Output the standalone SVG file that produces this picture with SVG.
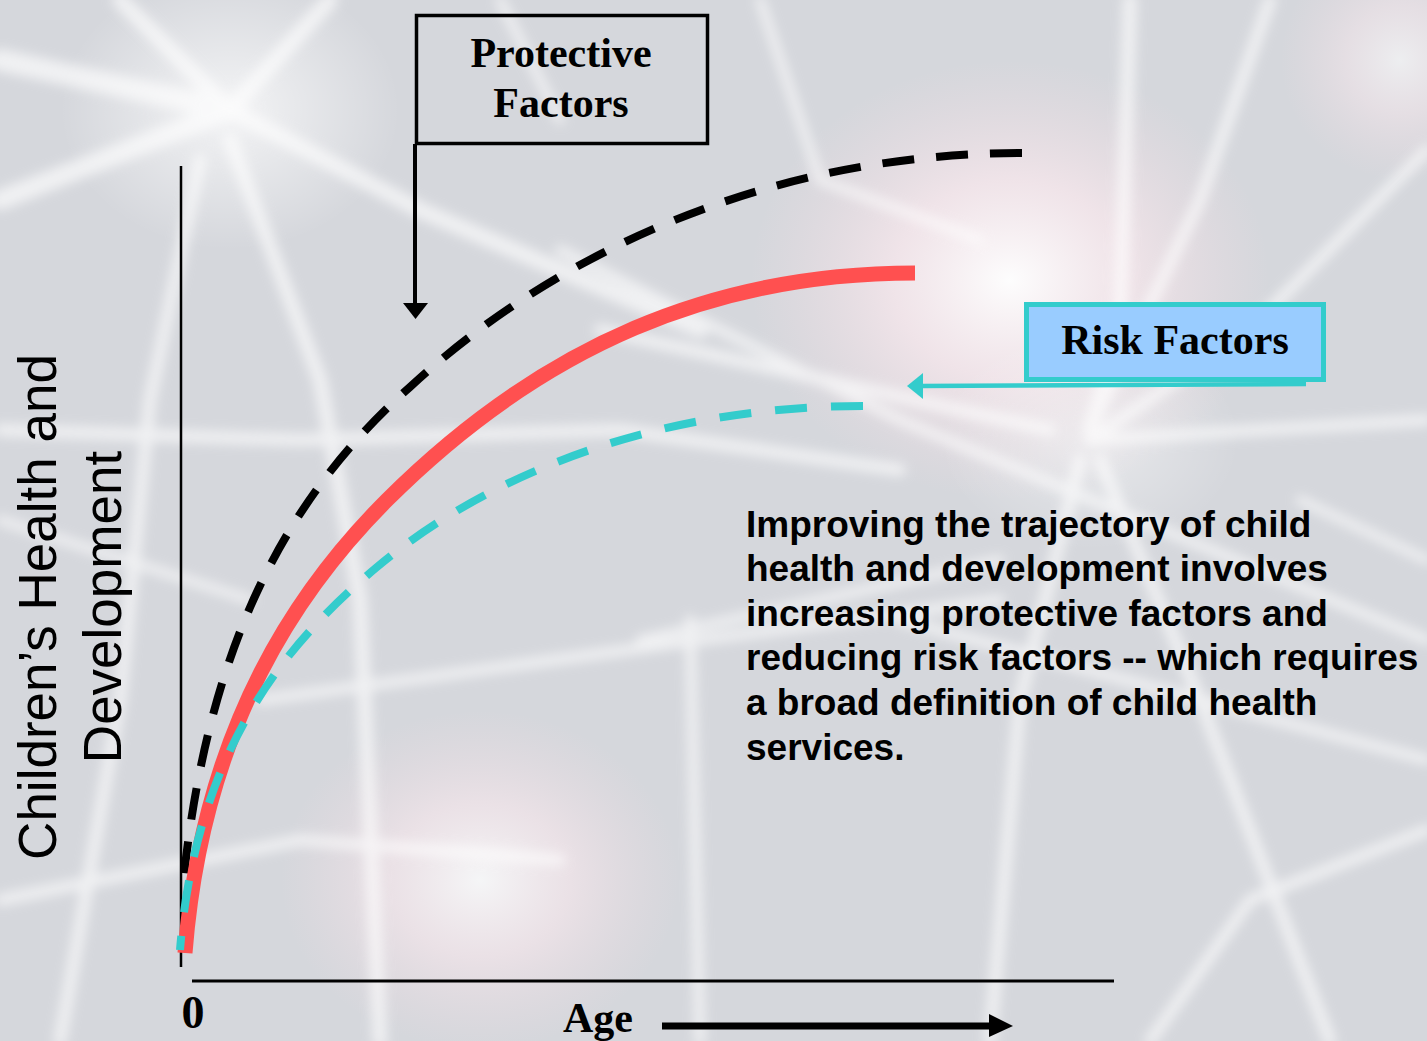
<svg xmlns="http://www.w3.org/2000/svg" width="1427" height="1041" viewBox="0 0 1427 1041">
  <defs>
    <style>
      .serif { font-family: "Liberation Serif", "Times New Roman", serif; font-weight: bold; fill: #000; }
      .sans { font-family: "Liberation Sans", Arial, sans-serif; fill: #000; }
      .streak { stroke: #ffffff; fill: none; stroke-linecap: round; }
      .blackdash { fill: none; stroke: #000; stroke-width: 8; stroke-dasharray: 32 22; }
      .tealdash { fill: none; stroke: #33CCCC; stroke-width: 8; stroke-dasharray: 32 24; }
    </style>
    <filter id="blur" x="-20%" y="-20%" width="140%" height="140%">
      <feGaussianBlur stdDeviation="6"/>
    </filter>
    <radialGradient id="glowPink" cx="0.5" cy="0.5" r="0.5">
      <stop offset="0" stop-color="#ffffff" stop-opacity="0.95"/>
      <stop offset="0.45" stop-color="#fbe9ee" stop-opacity="0.7"/>
      <stop offset="1" stop-color="#f3dde3" stop-opacity="0"/>
    </radialGradient>
    <radialGradient id="glowWhite" cx="0.5" cy="0.5" r="0.5">
      <stop offset="0" stop-color="#ffffff" stop-opacity="0.9"/>
      <stop offset="1" stop-color="#ffffff" stop-opacity="0"/>
    </radialGradient>
  </defs>

  <!-- background (neuron photograph impression) -->
  <g id="background">
    <rect x="0" y="0" width="1427" height="1041" fill="#d5d7dc"/>
    <ellipse cx="1010" cy="280" rx="260" ry="220" fill="url(#glowPink)"/>
    <ellipse cx="480" cy="880" rx="200" ry="170" fill="url(#glowPink)" opacity="0.8"/>
    <ellipse cx="230" cy="110" rx="170" ry="140" fill="url(#glowWhite)" opacity="0.8"/>
    <ellipse cx="1090" cy="440" rx="150" ry="110" fill="url(#glowWhite)" opacity="0.5"/>
    <ellipse cx="1400" cy="60" rx="120" ry="120" fill="url(#glowPink)" opacity="0.6"/>
    <g filter="url(#blur)" opacity="0.65">
      <path class="streak" stroke-width="22" d="M230 110 L0 60"/>
      <path class="streak" stroke-width="20" d="M230 110 L0 200"/>
      <path class="streak" stroke-width="16" d="M230 110 L120 0"/>
      <path class="streak" stroke-width="16" d="M230 110 L330 0"/>
      <path class="streak" stroke-width="16" d="M230 110 L420 210 L700 330"/>
      <path class="streak" stroke-width="14" d="M230 140 L320 380 L360 600 L380 1041"/>
      <path class="streak" stroke-width="12" d="M200 160 L150 400 L120 700 L60 1041"/>
      <path class="streak" stroke-width="12" d="M0 430 L300 440 L620 430 L900 470"/>
      <path class="streak" stroke-width="9" d="M0 520 L250 600"/>
      <path class="streak" stroke-width="10" d="M560 250 L900 420 L1427 640"/>
      <path class="streak" stroke-width="12" d="M600 330 L1050 430"/>
      <path class="streak" stroke-width="14" d="M1130 0 L1120 320 L1090 430"/>
      <path class="streak" stroke-width="12" d="M1270 0 L1200 200 L1090 430"/>
      <path class="streak" stroke-width="11" d="M1427 150 L1250 330 L1090 440"/>
      <path class="streak" stroke-width="11" d="M1090 440 L1427 420"/>
      <path class="streak" stroke-width="12" d="M1080 460 L1020 700 L990 1041"/>
      <path class="streak" stroke-width="12" d="M1100 460 L1200 700 L1330 1041"/>
      <path class="streak" stroke-width="11" d="M1427 830 L1250 900 L1150 1041"/>
      <path class="streak" stroke-width="10" d="M900 620 L1427 760"/>
      <path class="streak" stroke-width="9" d="M640 640 L1000 560"/>
      <path class="streak" stroke-width="10" d="M260 700 L700 640 L1000 600"/>
      <path class="streak" stroke-width="10" d="M690 620 L700 1041"/>
      <path class="streak" stroke-width="9" d="M760 0 L820 180 L980 240"/>
      <path class="streak" stroke-width="9" d="M500 0 L560 120"/>
      <path class="streak" stroke-width="11" d="M0 900 L300 840 L560 860"/>
      <path class="streak" stroke-width="9" d="M1300 500 L1427 560"/>
    </g>
  </g>

  <!-- axes -->
  <g id="axes" stroke="#000" fill="none">
    <line x1="181" y1="166" x2="181" y2="967" stroke-width="2.5"/>
    <line x1="192" y1="981" x2="1114" y2="981" stroke-width="3"/>
  </g>

  <!-- trajectory curves -->
  <g id="curves">
    <path id="curve-protective" class="blackdash" d="M1022 153 C772 153 557 251 410 387 C300 485 209 625 183 885"/>
    <path id="curve-typical" fill="none" stroke="#FF5050" stroke-width="15" d="M185 953 C203 723 302 585 387 500 C543 344.5 715 273 915 273"/>
    <path id="curve-risk" class="tealdash" d="M863 406 C663 406 492 471 377 567 C285 644 196 750 180 950"/>
  </g>

  <!-- connectors -->
  <g id="connectors">
    <line x1="415" y1="144" x2="415" y2="305" stroke="#000" stroke-width="4"/>
    <polygon points="403,303 428,303 415.5,319" fill="#000"/>
    <line x1="1306" y1="384" x2="920" y2="386" stroke="#33CCCC" stroke-width="4.5"/>
    <polygon points="907,386 923,373 923,399" fill="#33CCCC"/>
    <line x1="662" y1="1026" x2="992" y2="1026" stroke="#000" stroke-width="7"/>
    <polygon points="989,1014 1013,1026 989,1037" fill="#000"/>
  </g>

  <!-- Protective Factors box -->
  <g id="node-protective">
    <rect x="416.5" y="15.5" width="291" height="128" fill="none" stroke="#000" stroke-width="3.5"/>
    <text class="serif" x="561" y="67" font-size="42" text-anchor="middle">Protective</text>
    <text class="serif" x="561" y="117" font-size="42" text-anchor="middle">Factors</text>
  </g>

  <!-- Risk Factors box -->
  <g id="node-risk">
    <rect x="1026.5" y="304.5" width="297" height="75" fill="#99CCFF" stroke="#33CCCC" stroke-width="5"/>
    <text class="serif" x="1175" y="354" font-size="42" text-anchor="middle">Risk Factors</text>
  </g>

  <!-- axis labels -->
  <g id="label-y">
    <text class="sans" transform="translate(56,607) rotate(-90)" font-size="53" text-anchor="middle">Children’s Health and</text>
    <text class="sans" transform="translate(121,607) rotate(-90)" font-size="53" text-anchor="middle">Development</text>
  </g>
  <g id="label-x">
    <text class="serif" x="598" y="1032" font-size="42" text-anchor="middle">Age</text>
    <text class="serif" x="193" y="1028" font-size="46" text-anchor="middle">0</text>
  </g>

  <!-- explanatory text -->
  <g id="note">
    <text class="sans" font-size="37" font-weight="bold">
      <tspan x="746" y="537">Improving the trajectory of child</tspan>
      <tspan x="746" y="581">health and development involves</tspan>
      <tspan x="746" y="626">increasing protective factors and</tspan>
      <tspan x="746" y="670">reducing risk factors -- which requires</tspan>
      <tspan x="746" y="715">a broad definition of child health</tspan>
      <tspan x="746" y="760">services.</tspan>
    </text>
  </g>
</svg>
